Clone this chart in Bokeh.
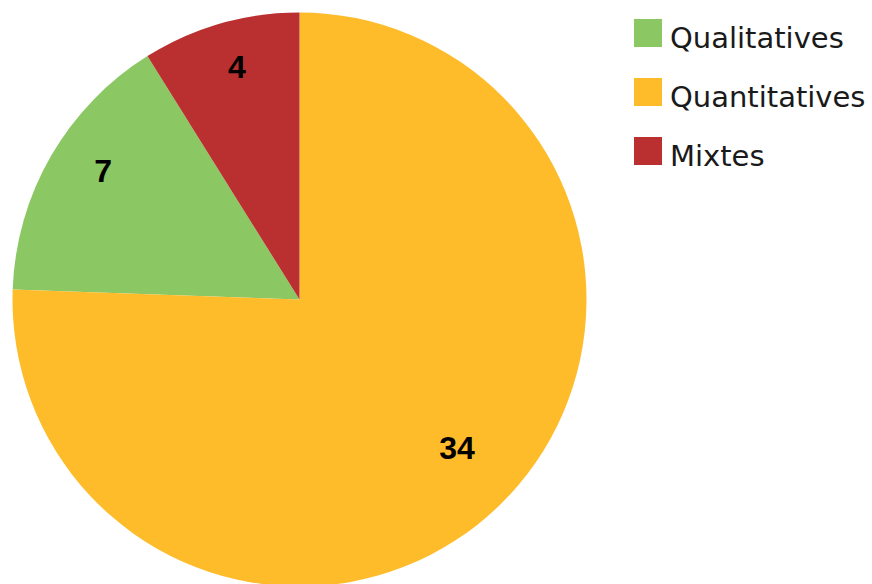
import numpy as np
from bokeh.plotting import figure
from bokeh.models import ColumnDataSource, Range1d, Legend, LegendItem
from bokeh.core.properties import value
from bokeh.embed import file_html
from bokeh.resources import INLINE

categories = ["Qualitatives", "Quantitatives", "Mixtes"]
counts = [7, 34, 4]
colors = ["#8BC763", "#FEBC2A", "#BA3030"]
# order of the slices, counter-clockwise starting from the top
slice_order = ["Mixtes", "Qualitatives", "Quantitatives"]

W, H = 872, 584
cx, cy = 299, 299  # pie centre in screen pixels (from top-left)
R = 287

vals = np.array(counts, dtype=float)
frac = vals / vals.sum()
start = np.zeros(len(vals))
end = np.zeros(len(vals))
acc = np.pi / 2
for name in slice_order:
    i = categories.index(name)
    start[i] = acc
    acc += frac[i] * 2 * np.pi
    end[i] = acc
mid = (start + end) / 2
lr = 0.79 * R

src = ColumnDataSource(dict(
    cat=categories, n=counts, color=colors,
    start=start, end=end,
    lx=lr * np.cos(mid), ly=lr * np.sin(mid),
    txt=[str(c) for c in counts],
))

p = figure(width=W, height=H, output_backend="svg", toolbar_location=None,
           x_range=Range1d(-cx, W - cx), y_range=Range1d(-(H - cy), cy),
           min_border=0, outline_line_color=None)
p.axis.visible = False
p.grid.visible = False
p.background_fill_color = "white"

r = p.wedge(x=0, y=0, radius=R, start_angle="start", end_angle="end",
            fill_color="color", line_color=None, source=src)

p.text(x="lx", y="ly", text="txt", source=src, y_offset=-15,
       text_font=value("Liberation Sans"), text_font_style="bold",
       text_font_size="32px", text_color="black",
       text_align="center", text_baseline="middle")

gw = 35
sp = 24
box_h = 3 * gw + 2 * sp

# legend swatches only
sw_items = [LegendItem(label=" ", renderers=[r], index=i) for i in range(len(categories))]
swatches = Legend(items=sw_items, location=(630, H - 15 - box_h),
                  glyph_width=gw, glyph_height=gw, label_height=gw, label_width=1,
                  spacing=sp, padding=0, margin=0, label_standoff=0,
                  border_line_color=None, background_fill_alpha=0,
                  label_text_font_size="1px")
p.add_layout(swatches, "center")

# legend labels only (slightly lower than the swatches, as in the reference)
lb_items = [LegendItem(label=c, renderers=[r], index=i) for i, c in enumerate(categories)]
labels = Legend(items=lb_items, location=(670, H - 20 - box_h),
                glyph_width=0, glyph_height=gw, label_height=gw,
                spacing=sp, padding=0, margin=0, label_standoff=0,
                border_line_color=None, background_fill_alpha=0,
                label_text_font="DejaVu Sans", label_text_font_size="29px",
                label_text_color="#1a1a1a")
p.add_layout(labels, "center")

open("out.html", "w").write(file_html(p, INLINE))
